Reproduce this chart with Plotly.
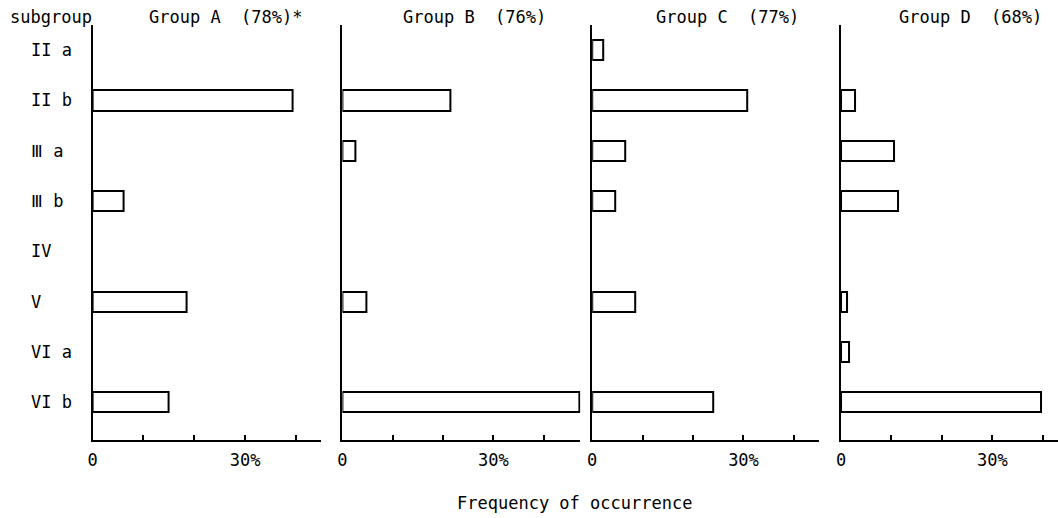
import plotly.graph_objects as go

# ---- data ----
subgroups = ["II a", "II b", "Ⅲ a", "Ⅲ b", "IV", "V", "VI a", "VI b"]
group_titles = ["Group A  (78%)*", "Group B  (76%)", "Group C  (77%)", "Group D  (68%)"]
group_a = [None, 39.4, None, 6.1, None, 18.5, None, 15.0]
group_b = [None, 21.4, 2.6, None, None, 4.8, None, 47.2]
group_c = [2.2, 30.8, 6.6, 4.6, None, 8.5, None, 24.0]
group_d = [None, 2.8, 10.5, 11.3, None, 1.2, 1.6, 39.6]
x_tick_vals = [0, 10, 20, 30, 40]
x_tick_text = ["0", "", "", "30%", ""]
x_label = "Frequency of occurrence"
corner_label = "subgroup"

series = [group_a, group_b, group_c, group_d]

# ---- layout geometry (pixels) ----
W, H = 1058, 518
FONT = "DejaVu Sans Mono"
FS = 17
panel_px = [(88, 318), (339, 578), (590, 818), (840, 1058)]
panel_max = [45.0, 47.3, 45.0, 43.0]
title_cx = [222, 472, 726, 970]
y_top_px, y_bot_px = 25, 440

ypos = list(range(len(subgroups)))

fig = go.Figure()
for i, vals in enumerate(series):
    xa = "x" if i == 0 else f"x{i+1}"
    ya = "y" if i == 0 else f"y{i+1}"
    fig.add_trace(go.Bar(
        x=vals, y=ypos, orientation="h", width=0.4,
        marker=dict(color="white", line=dict(color="black", width=2)),
        xaxis=xa, yaxis=ya, showlegend=False, hoverinfo="x+y",
    ))

layout = dict(
    width=W, height=H,
    margin=dict(l=0, r=0, t=0, b=0),
    paper_bgcolor="white", plot_bgcolor="white",
    font=dict(family=FONT, size=FS, color="black"),
    bargap=0,
)
ydom = [1 - y_bot_px / H, 1 - y_top_px / H]
for i, (x0, x1) in enumerate(panel_px):
    sfx = "" if i == 0 else str(i + 1)
    layout[f"xaxis{sfx}"] = dict(
        domain=[x0 / W, x1 / W], range=[0, panel_max[i]],
        showgrid=False, zeroline=False, showline=True, linecolor="black", linewidth=2,
        ticks="inside", ticklen=5, tickwidth=2, tickcolor="black",
        tickvals=x_tick_vals, ticktext=x_tick_text,
        tickfont=dict(family=FONT, size=FS), ticklabelstandoff=4,
        anchor="y" + sfx, fixedrange=True,
    )
    layout[f"yaxis{sfx}"] = dict(
        domain=ydom, range=[len(subgroups) - 0.25, -0.5],
        showgrid=False, zeroline=False, showline=True, linecolor="black", linewidth=2,
        showticklabels=False, ticks="",
        anchor="x" + sfx, fixedrange=True,
    )
fig.update_layout(**layout)

ann = []
for i, t in enumerate(group_titles):
    ann.append(dict(text=t, x=title_cx[i] / W, y=1 - 17 / H, xref="paper", yref="paper",
                    xanchor="center", yanchor="middle", showarrow=False,
                    font=dict(family=FONT, size=FS)))
ann.append(dict(text=corner_label, x=3 / W, y=1 - 17 / H, xref="paper", yref="paper",
                xanchor="left", yanchor="middle", showarrow=False,
                font=dict(family=FONT, size=FS)))
for k, s in enumerate(subgroups):
    ann.append(dict(text=s, x=24 / W, y=k, xref="paper", yref="y",
                    xanchor="left", yanchor="middle", showarrow=False,
                    font=dict(family=FONT, size=FS)))
ann.append(dict(text=x_label, x=572 / W, y=1 - 503 / H, xref="paper", yref="paper",
                xanchor="center", yanchor="middle", showarrow=False,
                font=dict(family=FONT, size=FS)))
fig.update_layout(annotations=ann)

fig.write_html(
    "out.html",
    config={"displayModeBar": False},
    post_script="document.documentElement.style.overflow='hidden';"
                "document.body.style.margin='0';document.body.style.overflow='hidden';",
)
